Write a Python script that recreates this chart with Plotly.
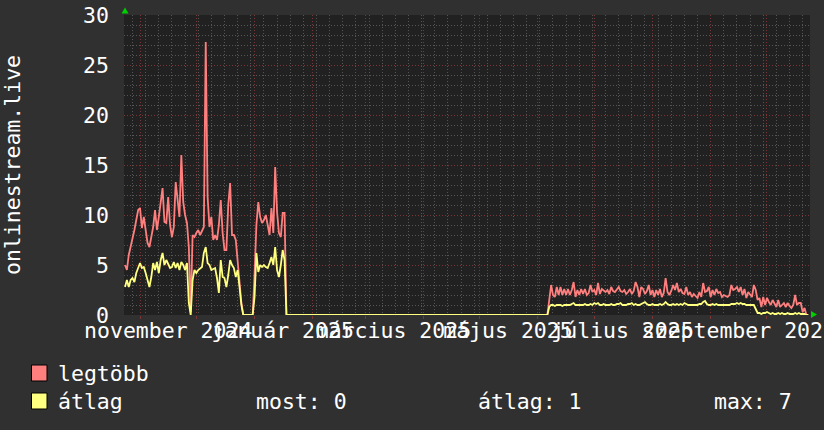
import plotly.graph_objects as go
import pandas as pd

# daily samples, first day 2024-10-24
start_day = "2024-10-24"

max_autumn = [
    5.0, 4.5, 6.0, 6.8, 7.5, 8.5, 9.5, 10.5, 10.7, 8.7,
    9.8, 8.5, 7.2, 6.8, 8.0, 8.8, 10.5, 8.5, 9.8, 11.2,
    12.7, 9.3, 9.2, 11.8, 9.0, 7.8, 8.8, 13.3, 11.3, 9.8,
    16.0, 11.3, 10.0, 9.2, 6.8, 0.3, 8.0, 7.8, 8.2, 8.5,
    8.0, 8.5, 8.8, 27.3, 11.8, 8.8, 9.8, 7.5, 8.0, 7.5,
    9.0, 11.5, 8.2, 6.5, 6.5, 11.0, 13.2, 8.0, 8.0, 7.5,
    5.5, 3.0, 1.2, 0, 0, 0, 0, 0, 0, 4.0,
    9.0, 11.3, 9.8, 9.2, 9.5, 10.0, 9.0, 8.0, 10.7, 8.2,
    14.8, 10.3, 8.2, 7.8, 10.2, 10.2, 0,
]
avg_autumn = [
    2.8, 3.5, 2.8, 3.5, 3.7, 3.3, 4.2, 4.8, 5.2, 4.7,
    4.8, 4.2, 3.5, 2.8, 3.8, 5.2, 4.5, 5.3, 4.2, 5.5,
    6.2, 5.0, 5.5, 5.0, 4.7, 4.8, 5.3, 4.7, 5.2, 4.5,
    5.3, 5.0, 4.5, 5.2, 1.2, 0.0, 3.5, 4.5, 4.2, 4.5,
    4.7, 4.8, 6.2, 6.8, 5.2, 5.0, 4.5, 4.6, 4.7, 3.7,
    2.2, 5.5, 3.8, 3.7, 2.8, 4.0, 5.5, 5.0, 4.7, 3.8,
    4.5, 2.8, 1.0, 0, 0, 0, 0, 0, 0, 1.8,
    6.2, 4.3, 5.0, 4.8, 5.0, 4.8, 4.7, 5.2, 5.8, 5.0,
    6.8, 4.5, 3.8, 5.0, 6.5, 5.5, 0,
]

quiet_days = 139  # days with value 0 between the two active periods

max_summer = [
    1.5, 3.0, 2.0, 1.8, 2.8, 2.0, 2.8, 2.0, 2.6, 2.0,
    2.6, 2.0, 2.5, 3.3, 1.8, 2.5, 2.0, 2.6, 2.1, 2.6,
    2.0, 2.2, 3.0, 2.3, 2.5, 2.0, 3.2, 2.1, 2.6, 2.4,
    2.3, 2.5, 2.1, 2.8, 2.4, 2.3, 2.5, 2.8, 2.4, 2.3,
    2.5, 2.1, 2.3, 2.6, 2.1, 2.4, 3.3, 2.8, 1.8, 2.8,
    2.6, 2.1, 2.4, 3.0, 2.0, 2.5, 1.8, 2.5, 2.0, 2.6,
    1.8, 2.2, 3.7, 2.3, 2.0, 2.4, 3.0, 2.5, 3.2, 2.3,
    2.6, 2.2, 2.1, 2.8, 2.0, 2.3, 1.8, 2.1, 1.9, 1.7,
    2.3, 1.8, 3.2, 2.3, 2.4, 2.8, 1.8, 2.5, 2.0, 2.6,
    2.2, 2.3, 1.8, 2.0, 1.9, 1.8, 2.0, 3.0, 2.5, 2.6,
    2.8, 2.3, 2.8, 2.0, 2.6, 1.7, 2.3, 2.0, 1.8, 3.0,
    2.5, 1.5, 1.7, 0.8, 1.8, 1.0, 1.7, 1.3, 1.0, 1.5,
    1.2, 0.8, 1.5, 0.8, 1.0, 1.2, 0.8, 1.2, 0.9, 0.7,
    1.0, 2.0, 1.0, 1.2, 1.2, 0.3, 0.7, 0, 0,
]
avg_summer = [
    0.8, 1.0, 1.0, 0.9, 1.0, 1.0, 1.0, 0.9, 1.0, 1.0,
    1.0, 1.0, 1.1, 1.2, 1.0, 1.0, 1.0, 1.0, 1.0, 1.1,
    1.0, 1.0, 1.1, 1.0, 1.2, 1.1, 1.2, 1.0, 1.0, 1.1,
    1.0, 1.0, 1.0, 1.1, 1.0, 1.0, 1.1, 1.1, 1.2, 1.0,
    1.0, 1.0, 1.1, 1.1, 1.2, 1.0, 1.1, 1.0, 1.0, 1.1,
    1.2, 1.3, 1.1, 1.0, 1.0, 1.1, 1.0, 1.0, 1.0, 1.1,
    1.0, 1.1, 1.3, 1.1, 1.0, 1.0, 1.1, 1.0, 1.1, 1.0,
    1.1, 1.0, 1.2, 1.1, 1.0, 1.0, 1.0, 1.0, 1.0, 1.0,
    1.1, 1.1, 1.3, 1.4, 1.1, 1.0, 1.0, 1.1, 1.0, 1.1,
    1.0, 1.0, 1.0, 1.0, 1.0, 1.0, 1.0, 1.1, 1.1, 1.1,
    1.2, 1.1, 1.2, 1.1, 1.1, 1.0, 1.0, 1.0, 1.0, 1.0,
    0.6, 0.2, 0.2, 0.1, 0.2, 0.2, 0.3, 0.2, 0.1, 0.2,
    0.1, 0.1, 0.2, 0.1, 0.2, 0.1, 0.1, 0.2, 0.1, 0.1,
    0.1, 0.2, 0.1, 0.2, 0.1, 0.1, 0.1, 0, 0,
]

month_grid = pd.date_range("2024-11-01", "2025-10-01", freq="MS")
label_days = pd.to_datetime(["2024-11-16", "2025-01-16", "2025-03-16",
                             "2025-05-16", "2025-07-16", "2025-09-16"])
label_text = ["november 2024", "január 2025", "március 2025",
              "május 2025", "július 2025", "szeptember 2025"]
y_ticks = [0, 5, 10, 15, 20, 25, 30]

legend_stats = {"most": 0, "átlag": 1, "max": 7}

# ---------------------------------------------------------------
max_vals = max_autumn + [0] * quiet_days + max_summer
avg_vals = avg_autumn + [0] * quiet_days + avg_summer
days = pd.date_range(start_day, periods=len(max_vals), freq="D")
x_range = ["2024-10-23 11:00", "2025-10-23 22:00"]

W, H, L, T = 824, 430, 124, 15
PW, PH = 686, 300
FONT = "DejaVu Sans Mono"
BG = "#303030"
CANVAS = "#212121"
MINOR = "#555555"
MAJOR = "#7e3535"
RED = "#ff7f7f"
YEL = "#ffff80"


def px(x):
    return (x - L) / PW


def py(y):
    return (T + PH - y) / PH


fig = go.Figure()
fig.add_trace(go.Scatter(x=days, y=max_vals, mode="lines",
                         line=dict(color=RED, width=1.8), hoverinfo="skip"))
fig.add_trace(go.Scatter(x=days, y=avg_vals, mode="lines",
                         line=dict(color=YEL, width=1.8), hoverinfo="skip"))
# empty trace so the label axis gets drawn
fig.add_trace(go.Scatter(x=label_days, y=[None] * len(label_days),
                         xaxis="x2", mode="lines", hoverinfo="skip"))

axis_font = dict(family=FONT, size=21.5, color="#ffffff")

fig.update_layout(
    width=W, height=H,
    margin=dict(l=L, r=W - L - PW, t=T, b=H - T - PH, autoexpand=False),
    paper_bgcolor=BG, plot_bgcolor=CANVAS,
    showlegend=False, hovermode=False,
    font=axis_font,
    xaxis=dict(
        type="date", range=x_range, automargin=False,
        tickmode="array", tickvals=month_grid, showticklabels=False,
        showgrid=True, gridcolor=MAJOR, griddash="1px,2px", gridwidth=1,
        ticks="outside", ticklen=3, tickcolor=MAJOR,
        minor=dict(tick0="2024-10-28", dtick=7 * 86400000, showgrid=True,
                   gridcolor=MINOR, griddash="1px,2px", gridwidth=1),
        zeroline=False, showline=False,
    ),
    xaxis2=dict(
        type="date", range=x_range, overlaying="x", anchor="y", side="bottom",
        automargin=False, tickangle=0, ticklabeloverflow="allow",
        tickmode="array", tickvals=label_days, ticktext=label_text,
        showgrid=False, ticks="", tickfont=axis_font, zeroline=False,
    ),
    yaxis=dict(
        range=[0, 30], tickmode="array", tickvals=y_ticks, automargin=False,
        showgrid=True, gridcolor=MAJOR, griddash="1px,2px", gridwidth=1,
        minor=dict(dtick=1, showgrid=True, gridcolor=MINOR,
                   griddash="1px,2px", gridwidth=1),
        ticks="", ticklabelstandoff=14, tickfont=axis_font,
        zeroline=False, showline=False,
        title=dict(text="onlinestream.live", font=axis_font, standoff=58),
    ),
)

# green arrows at the axis ends
up = [(121.5, 13.5), (128.5, 13.5), (125, 7.5)]
right = [(811, 311), (811, 318), (817, 314.5)]
for tri in (up, right):
    path = "M " + " L ".join(f"{px(a)},{py(b)}" for a, b in tri) + " Z"
    fig.add_shape(type="path", path=path, xref="paper", yref="paper",
                  fillcolor="#00d000", line=dict(width=0), layer="above")

# legend
rows = [("legtöbb", RED, 373), ("átlag", YEL, 401)]
for name, col, yc in rows:
    fig.add_shape(type="rect", xref="paper", yref="paper",
                  x0=px(31.5), x1=px(47), y0=py(yc + 8), y1=py(yc - 8),
                  fillcolor=col, line=dict(color="#000000", width=1))
    fig.add_annotation(text=name, x=px(56), y=py(yc), xref="paper", yref="paper",
                       xanchor="left", yanchor="middle", showarrow=False,
                       font=axis_font)

stat_x = [254, 476, 712]
for (k, v), sx in zip(legend_stats.items(), stat_x):
    fig.add_annotation(text=f"{k}: {v}", x=px(sx), y=py(401), xref="paper",
                       yref="paper", xanchor="left", yanchor="middle",
                       showarrow=False, font=axis_font)

fig.write_html("out.html", config={"displayModeBar": False},
               post_script="document.body.style.margin = '0';")
